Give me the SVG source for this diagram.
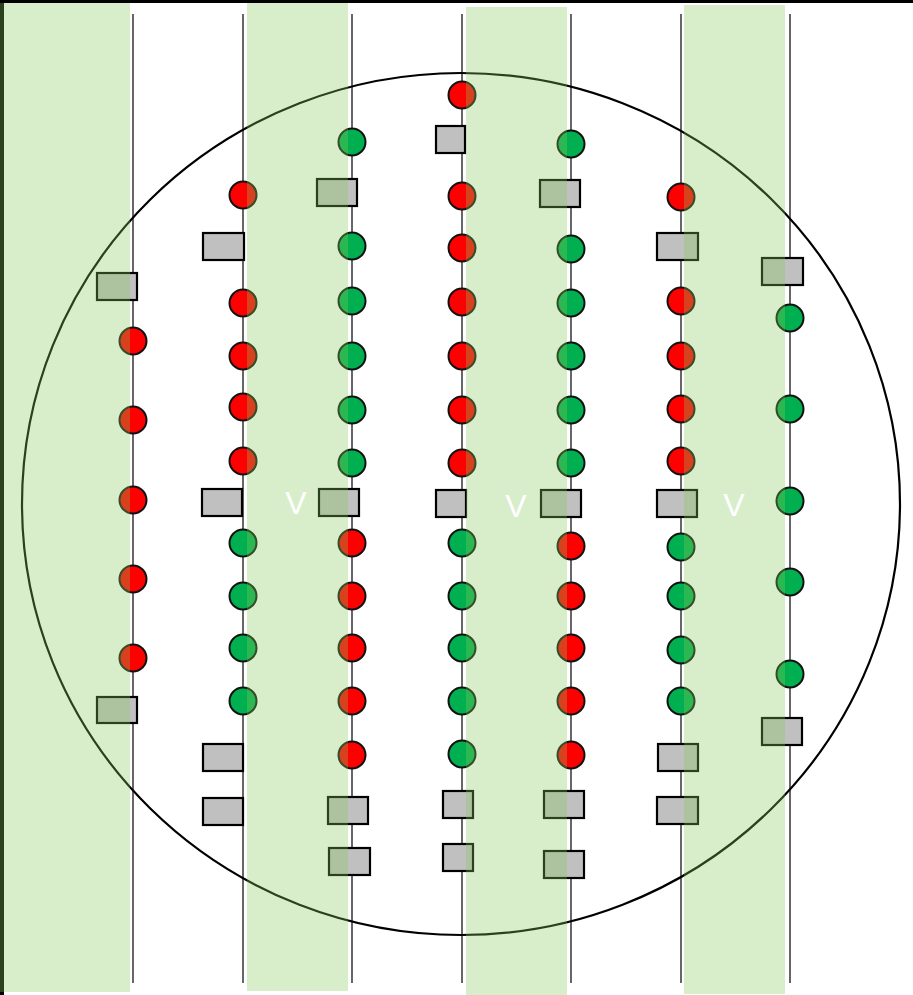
<svg xmlns="http://www.w3.org/2000/svg" width="913" height="995" viewBox="0 0 913 995">
<style>
.ln{stroke:#000;stroke-width:1.2;fill:none}
.r{fill:#ff0000;stroke:#111;stroke-width:2}
.g{fill:#00b050;stroke:#111;stroke-width:2}
.b{fill:#c0c0c0;stroke:#000;stroke-width:2.2}
.band{fill:#87c95b;fill-opacity:0.32}
.v{fill:#fff;font-family:"Liberation Sans",Arial,sans-serif;font-size:32px;text-anchor:middle}
</style>
<rect x="0" y="0" width="913" height="995" fill="#fff"/>
<rect x="2" y="1" width="940" height="1010" fill="none" stroke="#000" stroke-width="4"/>
<g id="connectors">
<line class="ln" x1="133" y1="14" x2="133" y2="983"/>
<line class="ln" x1="243" y1="14" x2="243" y2="983"/>
<line class="ln" x1="352" y1="14" x2="352" y2="983"/>
<line class="ln" x1="462" y1="14" x2="462" y2="983"/>
<line class="ln" x1="571" y1="14" x2="571" y2="983"/>
<line class="ln" x1="681" y1="14" x2="681" y2="983"/>
<line class="ln" x1="790" y1="14" x2="790" y2="983"/>
</g>
<g id="boundary"><ellipse cx="461" cy="504" rx="439" ry="431" fill="none" stroke="#000" stroke-width="2.2"/></g>
<g id="col1">
<g id="c1b1"><rect class="b" x="97" y="273" width="40" height="27"/></g>
<g id="c1n1"><circle class="r" cx="133" cy="341" r="13.5"/></g>
<g id="c1n2"><circle class="r" cx="133" cy="420" r="13.5"/></g>
<g id="c1n3"><circle class="r" cx="133" cy="500" r="13.5"/></g>
<g id="c1n4"><circle class="r" cx="133" cy="579" r="13.5"/></g>
<g id="c1n5"><circle class="r" cx="133" cy="658" r="13.5"/></g>
<g id="c1b2"><rect class="b" x="97" y="697" width="40" height="26"/></g>
</g>
<g id="col2">
<g id="c2n1"><circle class="r" cx="243" cy="195" r="13.5"/></g>
<g id="c2b1"><rect class="b" x="203" y="233" width="41" height="27"/></g>
<g id="c2n2"><circle class="r" cx="243" cy="303" r="13.5"/></g>
<g id="c2n3"><circle class="r" cx="243" cy="356" r="13.5"/></g>
<g id="c2n4"><circle class="r" cx="243" cy="407" r="13.5"/></g>
<g id="c2n5"><circle class="r" cx="243" cy="461" r="13.5"/></g>
<g id="c2b2"><rect class="b" x="202" y="489" width="40" height="27"/></g>
<g id="c2n6"><circle class="g" cx="243" cy="543" r="13.5"/></g>
<g id="c2n7"><circle class="g" cx="243" cy="596" r="13.5"/></g>
<g id="c2n8"><circle class="g" cx="243" cy="648" r="13.5"/></g>
<g id="c2n9"><circle class="g" cx="243" cy="701" r="13.5"/></g>
<g id="c2b3"><rect class="b" x="203" y="744" width="40" height="27"/></g>
<g id="c2b4"><rect class="b" x="203" y="798" width="40" height="27"/></g>
</g>
<g id="col3">
<g id="c3n1"><circle class="g" cx="352" cy="142" r="13.5"/></g>
<g id="c3b1"><rect class="b" x="317" y="179" width="40" height="27"/></g>
<g id="c3n2"><circle class="g" cx="352" cy="246" r="13.5"/></g>
<g id="c3n3"><circle class="g" cx="352" cy="301" r="13.5"/></g>
<g id="c3n4"><circle class="g" cx="352" cy="356" r="13.5"/></g>
<g id="c3n5"><circle class="g" cx="352" cy="410" r="13.5"/></g>
<g id="c3n6"><circle class="g" cx="352" cy="463" r="13.5"/></g>
<g id="c3b2"><rect class="b" x="319" y="489" width="40" height="27"/></g>
<g id="c3n7"><circle class="r" cx="352" cy="543" r="13.5"/></g>
<g id="c3n8"><circle class="r" cx="352" cy="596" r="13.5"/></g>
<g id="c3n9"><circle class="r" cx="352" cy="648" r="13.5"/></g>
<g id="c3n10"><circle class="r" cx="352" cy="701" r="13.5"/></g>
<g id="c3n11"><circle class="r" cx="352" cy="755" r="13.5"/></g>
<g id="c3b3"><rect class="b" x="328" y="797" width="40" height="27"/></g>
<g id="c3b4"><rect class="b" x="329" y="848" width="41" height="27"/></g>
</g>
<g id="col4">
<g id="c4n1"><circle class="r" cx="462" cy="95" r="13.5"/></g>
<g id="c4b1"><rect class="b" x="436" y="126" width="29" height="27"/></g>
<g id="c4n2"><circle class="r" cx="462" cy="196" r="13.5"/></g>
<g id="c4n3"><circle class="r" cx="462" cy="248" r="13.5"/></g>
<g id="c4n4"><circle class="r" cx="462" cy="302" r="13.5"/></g>
<g id="c4n5"><circle class="r" cx="462" cy="356" r="13.5"/></g>
<g id="c4n6"><circle class="r" cx="462" cy="410" r="13.5"/></g>
<g id="c4n7"><circle class="r" cx="462" cy="463" r="13.5"/></g>
<g id="c4b2"><rect class="b" x="436" y="490" width="30" height="27"/></g>
<g id="c4n8"><circle class="g" cx="462" cy="543" r="13.5"/></g>
<g id="c4n9"><circle class="g" cx="462" cy="596" r="13.5"/></g>
<g id="c4n10"><circle class="g" cx="462" cy="648" r="13.5"/></g>
<g id="c4n11"><circle class="g" cx="462" cy="701" r="13.5"/></g>
<g id="c4n12"><circle class="g" cx="462" cy="754" r="13.5"/></g>
<g id="c4b3"><rect class="b" x="443" y="791" width="30" height="27"/></g>
<g id="c4b4"><rect class="b" x="443" y="844" width="30" height="27"/></g>
</g>
<g id="col5">
<g id="c5n1"><circle class="g" cx="571" cy="144" r="13.5"/></g>
<g id="c5b1"><rect class="b" x="540" y="180" width="40" height="27"/></g>
<g id="c5n2"><circle class="g" cx="571" cy="249" r="13.5"/></g>
<g id="c5n3"><circle class="g" cx="571" cy="303" r="13.5"/></g>
<g id="c5n4"><circle class="g" cx="571" cy="356" r="13.5"/></g>
<g id="c5n5"><circle class="g" cx="571" cy="410" r="13.5"/></g>
<g id="c5n6"><circle class="g" cx="571" cy="463" r="13.5"/></g>
<g id="c5b2"><rect class="b" x="541" y="490" width="40" height="27"/></g>
<g id="c5n7"><circle class="r" cx="571" cy="546" r="13.5"/></g>
<g id="c5n8"><circle class="r" cx="571" cy="596" r="13.5"/></g>
<g id="c5n9"><circle class="r" cx="571" cy="648" r="13.5"/></g>
<g id="c5n10"><circle class="r" cx="571" cy="701" r="13.5"/></g>
<g id="c5n11"><circle class="r" cx="571" cy="755" r="13.5"/></g>
<g id="c5b3"><rect class="b" x="544" y="791" width="40" height="27"/></g>
<g id="c5b4"><rect class="b" x="544" y="851" width="40" height="27"/></g>
</g>
<g id="col6">
<g id="c6n1"><circle class="r" cx="681" cy="197" r="13.5"/></g>
<g id="c6b1"><rect class="b" x="657" y="233" width="41" height="27"/></g>
<g id="c6n2"><circle class="r" cx="681" cy="301" r="13.5"/></g>
<g id="c6n3"><circle class="r" cx="681" cy="356" r="13.5"/></g>
<g id="c6n4"><circle class="r" cx="681" cy="409" r="13.5"/></g>
<g id="c6n5"><circle class="r" cx="681" cy="461" r="13.5"/></g>
<g id="c6b2"><rect class="b" x="657" y="490" width="40" height="27"/></g>
<g id="c6n6"><circle class="g" cx="681" cy="547" r="13.5"/></g>
<g id="c6n7"><circle class="g" cx="681" cy="596" r="13.5"/></g>
<g id="c6n8"><circle class="g" cx="681" cy="650" r="13.5"/></g>
<g id="c6n9"><circle class="g" cx="681" cy="701" r="13.5"/></g>
<g id="c6b3"><rect class="b" x="658" y="744" width="40" height="27"/></g>
<g id="c6b4"><rect class="b" x="657" y="797" width="41" height="27"/></g>
</g>
<g id="col7">
<g id="c7b1"><rect class="b" x="762" y="258" width="41" height="27"/></g>
<g id="c7n1"><circle class="g" cx="790" cy="318" r="13.5"/></g>
<g id="c7n2"><circle class="g" cx="790" cy="409" r="13.5"/></g>
<g id="c7n3"><circle class="g" cx="790" cy="501" r="13.5"/></g>
<g id="c7n4"><circle class="g" cx="790" cy="582" r="13.5"/></g>
<g id="c7n5"><circle class="g" cx="790" cy="674" r="13.5"/></g>
<g id="c7b2"><rect class="b" x="762" y="718" width="40" height="27"/></g>
</g>
<g id="bands">
<rect class="band" x="0" y="3" width="130" height="989"/>
<rect class="band" x="247" y="3" width="101" height="988"/>
<rect class="band" x="466" y="7" width="101" height="988"/>
<rect class="band" x="684" y="5" width="101" height="989"/>
</g>
<g id="labels">
<text class="v" x="296" y="514">V</text>
<text class="v" x="516" y="517">V</text>
<text class="v" x="734" y="516">V</text>
</g>
</svg>
